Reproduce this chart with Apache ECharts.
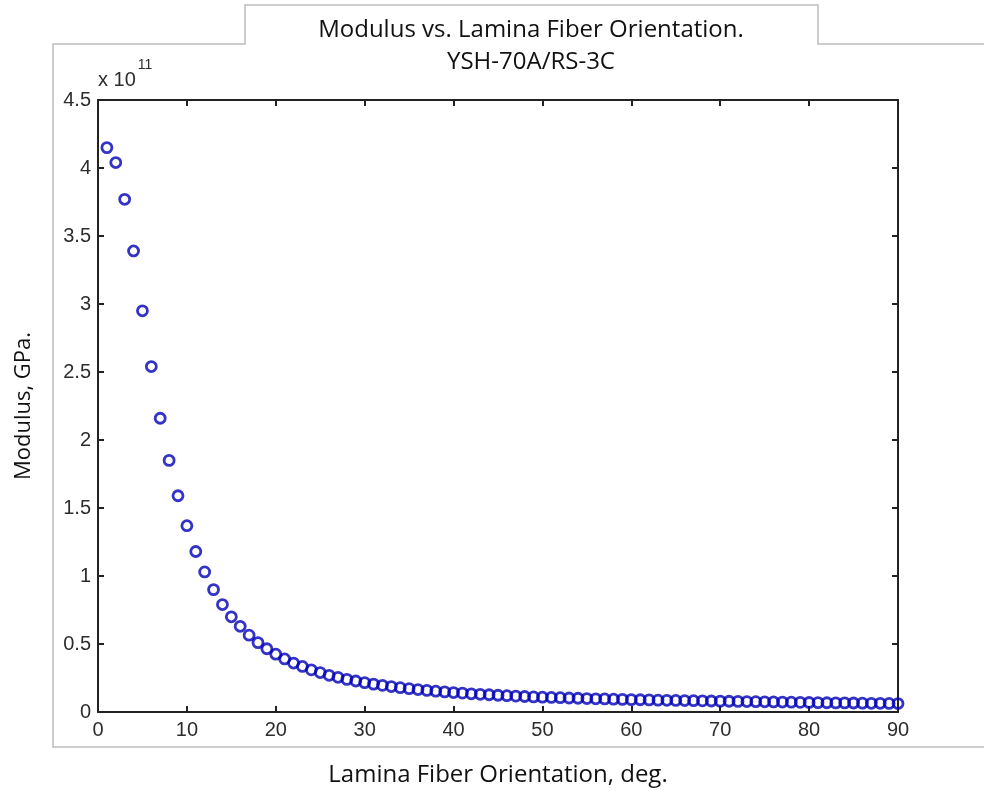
<!DOCTYPE html>
<html>
<head>
<meta charset="utf-8">
<script src="https://cdn.jsdelivr.net/npm/echarts@6/dist/echarts.min.js"></script>
<style>
  html, body { margin: 0; padding: 0; background: #fff; }
  #chart { width: 984px; height: 791px; }
</style>
</head>
<body>
<div id="chart"></div>
<script>
// fiber angle, deg
const angles = [];
for (let i = 1; i <= 90; i += 1) angles.push(i);

// modulus, in units of 1e11
const modulus = [
  4.15, 4.04, 3.77, 3.39, 2.95, 2.54, 2.16, 1.85, 1.59, 1.37,
  1.18, 1.03, 0.90, 0.79, 0.70, 0.63, 0.565, 0.51, 0.465, 0.425,
  0.39, 0.36, 0.335, 0.31, 0.29, 0.27, 0.255, 0.24, 0.228, 0.216,
  0.205, 0.196, 0.187, 0.179, 0.172, 0.165, 0.159, 0.153, 0.148, 0.143,
  0.139, 0.134, 0.130, 0.127, 0.123, 0.120, 0.117, 0.114, 0.111, 0.109,
  0.107, 0.105, 0.103, 0.101, 0.099, 0.097, 0.096, 0.094, 0.093, 0.091,
  0.090, 0.089, 0.087, 0.086, 0.085, 0.084, 0.083, 0.082, 0.081, 0.080,
  0.079, 0.078, 0.077, 0.076, 0.075, 0.074, 0.073, 0.072, 0.071, 0.070,
  0.069, 0.068, 0.067, 0.067, 0.066, 0.065, 0.064, 0.064, 0.063, 0.062
];

const xTicks = [0, 10, 20, 30, 40, 50, 60, 70, 80, 90];
const yTicks = [0, 0.5, 1, 1.5, 2, 2.5, 3, 3.5, 4, 4.5];

const points = angles.map((a, i) => [a, modulus[i]]);

const tickFont = { fontFamily: 'Liberation Sans', fontSize: 20, color: '#2d2d2d' };
const labelFont = 'Open Sans';
const axisLine = { show: true, onZero: false, lineStyle: { color: '#222', width: 2 } };
const axisTick = { show: true, inside: true, length: 6, lineStyle: { color: '#222', width: 2 } };

const chart = echarts.init(document.getElementById('chart'));
chart.setOption({
  backgroundColor: '#fff',
  animation: false,
  grid: { left: 98, top: 100, right: 86, bottom: 79, show: false, outerBoundsMode: 'none' },
  xAxis: [
    {
      type: 'value', min: 0, max: 90, interval: 10,
      axisLine, axisTick,
      axisLabel: Object.assign({ margin: 8, formatter: v => (xTicks.includes(v) ? String(v) : '') }, tickFont),
      splitLine: { show: false },
      name: 'Lamina Fiber Orientation, deg.',
      nameLocation: 'middle', nameGap: 51,
      nameTextStyle: { fontFamily: labelFont, fontSize: 24, color: '#111' }
    },
    {
      type: 'value', min: 0, max: 90, interval: 10, position: 'top',
      axisLine, axisTick,
      axisLabel: { show: false }, splitLine: { show: false }
    }
  ],
  yAxis: [
    {
      type: 'value', min: 0, max: 4.5, interval: 0.5,
      axisLine, axisTick,
      axisLabel: Object.assign({ margin: 7, formatter: v => (yTicks.includes(v) ? String(v) : '') }, tickFont),
      splitLine: { show: false },
      name: 'Modulus, GPa.',
      nameLocation: 'middle', nameGap: 63, nameRotate: 90,
      nameTextStyle: { fontFamily: labelFont, fontSize: 22, color: '#111' }
    },
    {
      type: 'value', min: 0, max: 4.5, interval: 0.5, position: 'right',
      axisLine, axisTick,
      axisLabel: { show: false }, splitLine: { show: false }
    }
  ],
  graphic: [
    {
      type: 'polyline', z: -1,
      shape: { points: [[984, 747], [53, 747], [53, 44], [245, 44], [245, 5], [818, 5], [818, 44], [984, 44]] },
      style: { stroke: '#bdbdbd', lineWidth: 1.5, fill: null }
    },
    {
      type: 'text', x: 531, y: 14,
      style: {
        text: 'Modulus vs. Lamina Fiber Orientation.\nYSH-70A/RS-3C',
        fontFamily: labelFont, fontSize: 24, fill: '#111',
        align: 'center', textAlign: 'center', lineHeight: 32
      }
    },
    {
      type: 'text', x: 98, y: 58,
      style: {
        text: '{b|x 10}{s|11}',
        rich: {
          b: { fontFamily: 'Liberation Sans', fontSize: 20, fill: '#2d2d2d', verticalAlign: 'bottom', padding: [12, 0, 0, 0] },
          s: { fontFamily: 'Liberation Sans', fontSize: 14, fill: '#2d2d2d', verticalAlign: 'top', padding: [0, 0, 14, 2] }
        }
      }
    }
  ],
  series: [
    {
      type: 'scatter',
      xAxisIndex: 0, yAxisIndex: 0,
      data: points,
      symbol: 'circle',
      symbolSize: 10,
      itemStyle: { color: 'rgba(255,255,255,0)', borderColor: '#0000b8', borderWidth: 2.8 },
      clip: false
    }
  ]
});
</script>
</body>
</html>
